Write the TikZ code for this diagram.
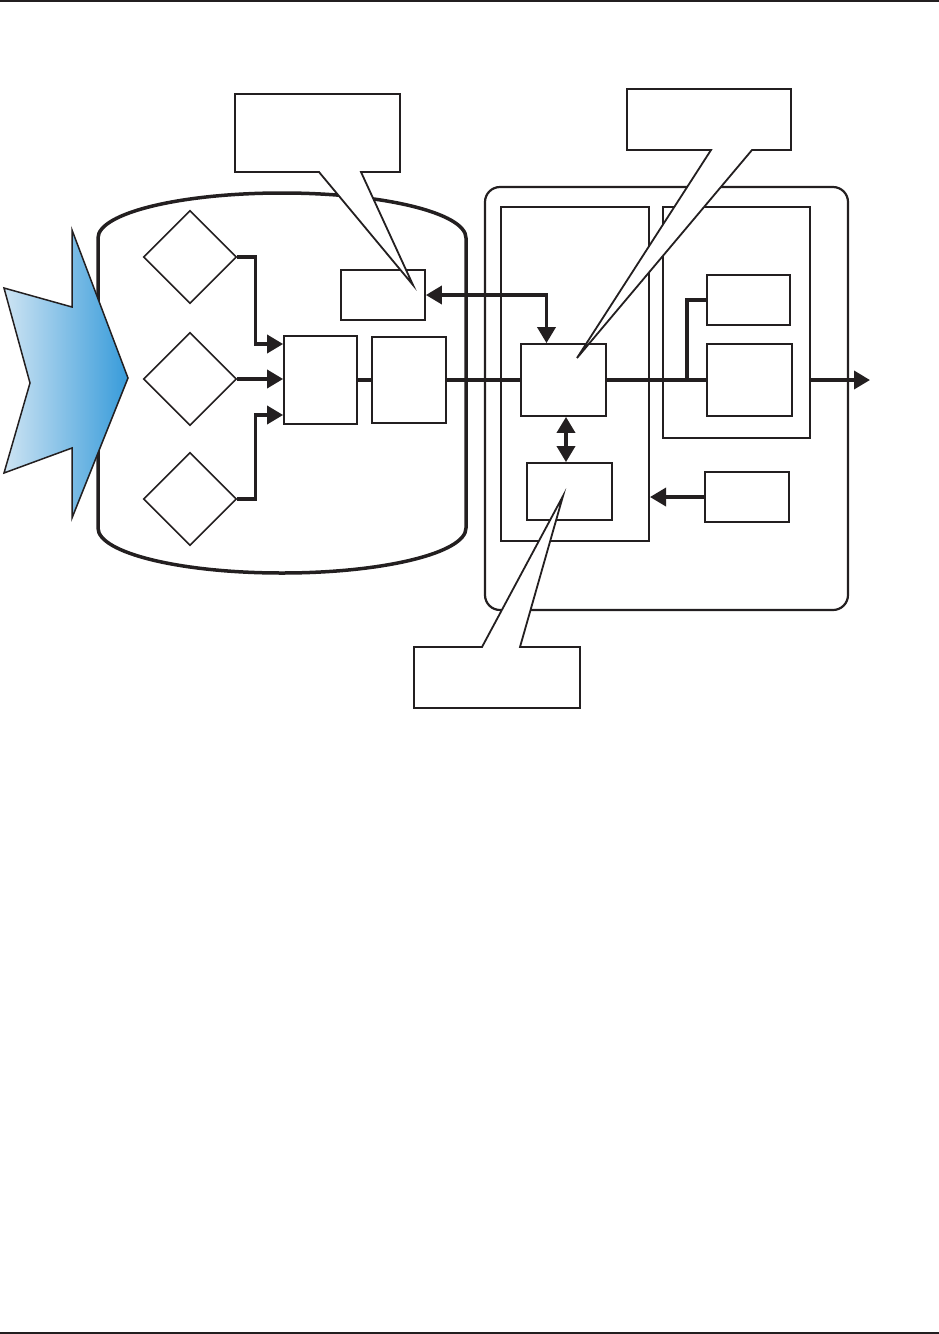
\documentclass[tikz,border=0pt]{standalone}
\usetikzlibrary{arrows.meta,shapes.geometric}
\definecolor{ink}{RGB}{35,31,32}
\definecolor{paleblue}{RGB}{206,228,243}
\definecolor{deepblue}{RGB}{55,155,218}
\begin{document}
\begin{tikzpicture}[x=1pt,y=-1pt,
        blk/.style={draw=ink,line width=1.8pt,fill=white,inner sep=0pt},
        dia/.style={draw=ink,line width=1.6pt,fill=white,diamond,minimum width=93pt,minimum height=93pt,inner sep=0pt},
        panel/.style={draw=ink,line width=2pt,inner sep=0pt},
        link/.style={draw=ink,line width=3.5pt},
        flow/.style={link,-{Triangle[length=16pt,width=18pt]}},
        both/.style={link,{Triangle[length=16pt,width=18pt]}-{Triangle[length=16pt,width=18pt]}},
        balloon/.style={draw=ink,line width=1.8pt,fill=white}]
        \useasboundingbox (0,0) rectangle (939,1334);
        \draw[ink,line width=2pt] (0,1) -- (939,1);
        \draw[ink,line width=2.5pt] (0,1332.75) -- (939,1332.75);

        \draw[ink,line width=3.5pt] (98,528) -- (98,238)
            arc[start angle=180,end angle=360,x radius=184,y radius=45] -- (466,528)
            arc[start angle=0,end angle=180,x radius=184,y radius=45] -- cycle;
        \shadedraw[left color=paleblue,right color=deepblue,draw=ink,line width=1.5pt]
            (4,288) -- (72,307) -- (72,230) -- (128,378) -- (72,518) -- (72,448) -- (4,473) -- (30,383) -- cycle;

        \node[panel,line width=2.2pt,rounded corners=15pt,minimum width=363pt,minimum height=423pt] (unit) at (666.5,398.5) {};
        \node[panel,minimum width=148pt,minimum height=334pt] (left) at (575,374) {};
        \node[panel,minimum width=147pt,minimum height=231pt] (right) at (736.5,322.5) {};

        \node[dia] (d1) at (190,257) {};
        \node[dia] (d2) at (190,379) {};
        \node[dia] (d3) at (190,499) {};

        \node[blk,minimum width=73pt,minimum height=88pt] (a) at (320.5,380) {};
        \node[blk,minimum width=74pt,minimum height=86pt] (b) at (409,380) {};
        \node[blk,minimum width=84pt,minimum height=50pt] (c) at (383,295) {};
        \node[blk,minimum width=85pt,minimum height=72pt] (d) at (563.5,380) {};
        \node[blk,minimum width=83pt,minimum height=50pt] (e) at (748.5,300) {};
        \node[blk,minimum width=85pt,minimum height=72pt] (f) at (749.5,380) {};
        \node[blk,minimum width=85pt,minimum height=57pt] (g) at (569.5,491.5) {};
        \node[blk,minimum width=84pt,minimum height=50pt] (h) at (747,497) {};
        \coordinate (tap) at (687,380);
        \coordinate (out) at (870,380);

        \draw[flow] (d1.east) -- ++(18,0) |- ([yshift=36pt]a.west);
        \draw[flow] (d2.east) -- (d2.east -| a.west);
        \draw[flow] (d3.east) -- ++(18,0) |- ([yshift=-35pt]a.west);
        \draw[link] (a.east) -- (b.west);
        \draw[link] (b.east) -- (d.west);
        \draw[link] (d.east) -- (f.west);
        \draw[link] (tap) |- (e.west);
        \draw[flow] (right.east |- f.east) -- (out);
        \draw[both] (c.east) -| ([xshift=-17pt]d.north);
        \draw[both] ([xshift=2.5pt]d.south) -- ([xshift=2.5pt]d.south |- g.north);
        \draw[flow] (h.west) -- (h.west -| left.east);

        \draw[balloon] (235,94) -- (400,94) -- (400,172) -- (361,172) -- (413,285) -- (319,172) -- (235,172) -- cycle;
        \draw[balloon] (627,89) -- (791,89) -- (791,150) -- (752,150) -- (577,358) -- (711,150) -- (627,150) -- cycle;
        \draw[balloon] (414,647) -- (482,647) -- (563,496) -- (520,647) -- (580,647) -- (580,708) -- (414,708) -- cycle;
    \end{tikzpicture}
\end{document}
